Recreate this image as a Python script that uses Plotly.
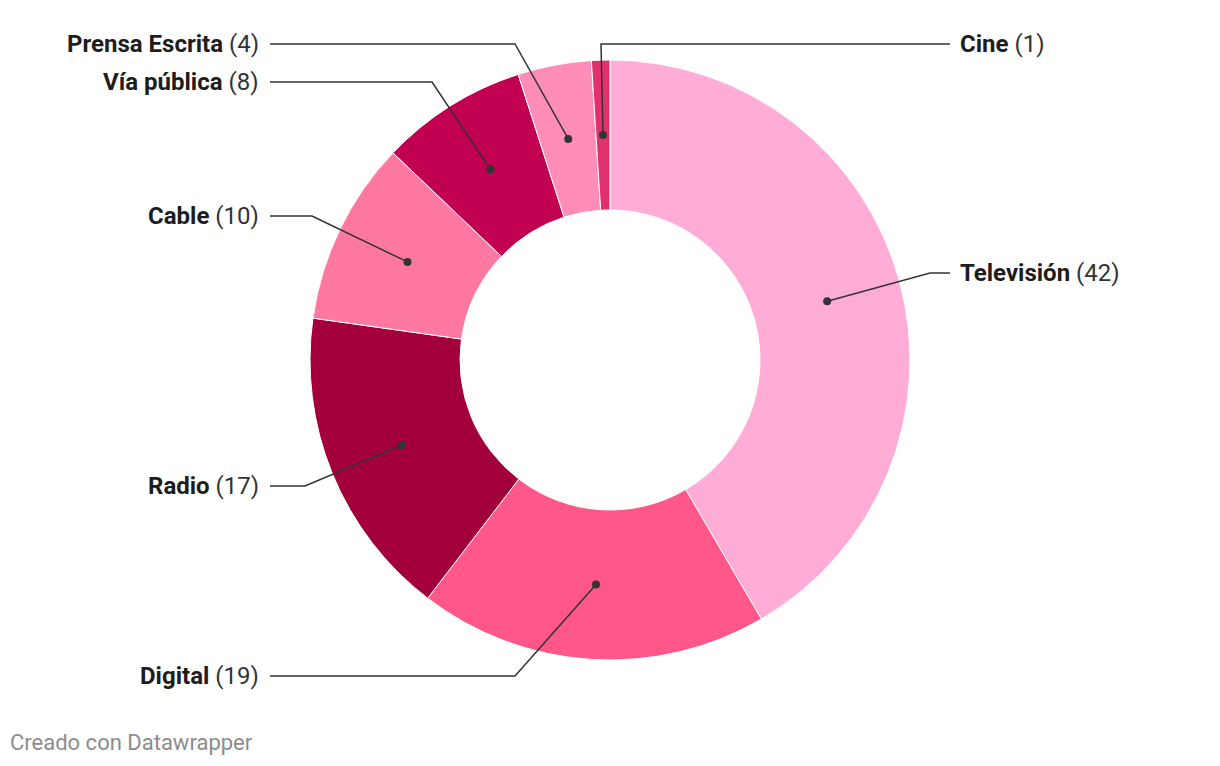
import math
import plotly.graph_objects as go

# ---- data ----
categories = ["Televisión", "Digital", "Radio", "Cable", "Vía pública", "Prensa Escrita", "Cine"]
values = [42, 19, 17, 10, 8, 4, 1]
colors = ["#ffadd6", "#ff5789", "#a3003b", "#ff78a1", "#c10052", "#ff8db8", "#e0306e"]

# ---- layout (pixels) ----
W, H = 1220, 766
CX, CY, R_OUT, HOLE = 610, 360, 300, 0.5
R_DOT = R_OUT * (1 + HOLE) / 2

# label placement: side, label y (px), elbow point (px)
label_side = ["right", "left", "left", "left", "left", "left", "right"]
label_y = [273, 676, 486, 216, 82, 44, 44]
elbow_x = [930, 515, 305, 312, 432, 515, 601]

def px(x):
    return x / W

def py(y):
    return 1 - y / H

fig = go.Figure(go.Pie(
    labels=categories, values=values, hole=HOLE, sort=False, direction="clockwise",
    rotation=0, marker=dict(colors=colors, line=dict(color="white", width=1)),
    textinfo="none", hoverinfo="label+value", showlegend=False,
    domain=dict(x=[px(CX - R_OUT), px(CX + R_OUT)], y=[py(CY + R_OUT), py(CY - R_OUT)]),
))

shapes, annotations = [], []
total = sum(values)
cum = 0
for name, v, side, ly, ex in zip(categories, values, label_side, label_y, elbow_x):
    mid = (cum + v / 2) / total * 2 * math.pi
    cum += v
    dx = CX + R_DOT * math.sin(mid)
    dy = CY - R_DOT * math.cos(mid)
    if side == "right":
        endx, tx, anchor = 950, 958, "left"
    else:
        endx, tx, anchor = 270, 261, "right"
    path = f"M {px(dx)},{py(dy)} L {px(ex)},{py(ly)} L {px(endx)},{py(ly)}"
    shapes.append(dict(type="path", path=path, xref="paper", yref="paper",
                       line=dict(color="#333333", width=1.5)))
    shapes.append(dict(type="circle", xref="paper", yref="paper", xsizemode="pixel", ysizemode="pixel",
                       xanchor=px(dx), yanchor=py(dy), x0=-4, x1=4, y0=-4, y1=4,
                       fillcolor="#333333", line=dict(color="#333333", width=0)))
    annotations.append(dict(x=px(tx), y=py(ly), xref="paper", yref="paper", xanchor=anchor, yanchor="middle",
                            text=f"<b>{name}</b> <span style='color:#333333'>({v})</span>", showarrow=False,
                            font=dict(family="Roboto", size=24, color="#1d1d1d")))

annotations.append(dict(x=px(8), y=py(742), xref="paper", yref="paper", xanchor="left", yanchor="middle",
                        text="Creado con Datawrapper", showarrow=False,
                        font=dict(family="Roboto", size=22, color="#8c8c8c")))

fig.update_layout(width=W, height=H, margin=dict(l=0, r=0, t=0, b=0),
                  paper_bgcolor="white", plot_bgcolor="white",
                  shapes=shapes, annotations=annotations)

fig.write_html("out.html")
